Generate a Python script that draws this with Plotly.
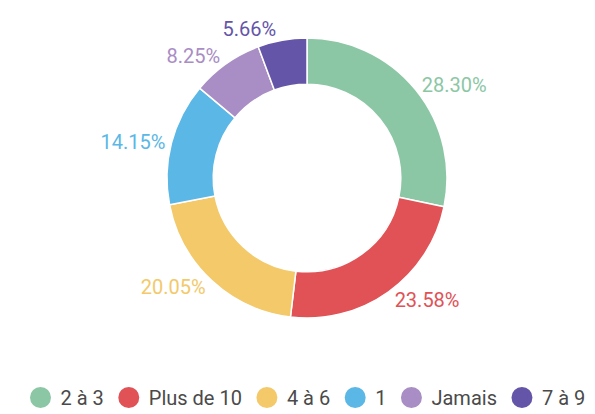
import plotly.graph_objects as go

categories = ["2 à 3", "Plus de 10", "4 à 6", "1", "Jamais", "7 à 9"]
values = [28.30, 23.58, 20.05, 14.15, 8.25, 5.66]
colors = ["#8CC7A5", "#E05256", "#F3C969", "#5BB7E5", "#A98DC5", "#6455A9"]

fig = go.Figure()
fig.add_trace(go.Pie(
    labels=categories, values=values, sort=False, direction="clockwise",
    rotation=0, hole=0.67,
    marker=dict(colors=colors, line=dict(color="white", width=1.5)),
    texttemplate="%{value:.2f}%", textposition="outside",
    outsidetextfont=dict(family="Roboto", size=20, color=colors),
    showlegend=False, hoverinfo="label+value",
    domain=dict(x=[159/595, 439/595], y=[1-310/414, 1-30/414]),
))
for c, col in zip(categories, colors):
    fig.add_trace(go.Scatter(
        x=[None], y=[None], mode="markers", name=c,
        marker=dict(symbol="circle", size=16, color=col,
                    line=dict(color=col, width=5)),
    ))

fig.update_layout(
    width=595, height=414,
    margin=dict(l=0, r=0, t=0, b=0),
    paper_bgcolor="white", plot_bgcolor="white",
    xaxis=dict(visible=False), yaxis=dict(visible=False),
    legend=dict(orientation="h", x=0.5, xanchor="center", y=0.012, yanchor="bottom",
                font=dict(family="Roboto", size=20, color="#4a4a4a"),
                itemsizing="trace"),
    font=dict(family="Roboto"),
)
fig.write_html("out.html")
